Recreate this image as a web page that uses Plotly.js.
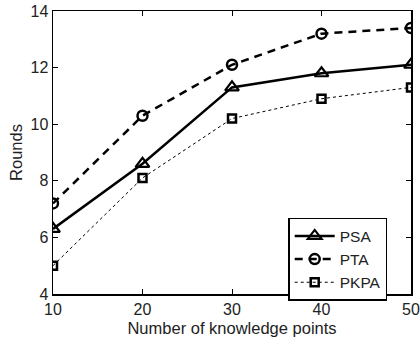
<!DOCTYPE html>
<html><head><meta charset="utf-8">
<script src="https://cdn.plot.ly/plotly-3.0.1.min.js"></script>
<style>body{margin:0;background:#fff}#c{width:420px;height:342px}</style>
</head><body><div id="c"></div>
<script>
const knowledgePoints = [10, 20, 30, 40, 50];
const psa = [6.3, 8.6, 11.3, 11.8, 12.1];
const pta = [7.2, 10.3, 12.1, 13.2, 13.4];
const pkpa = [5.0, 8.1, 10.2, 10.9, 11.3];
const xTicks = [10, 20, 30, 40, 50];
const yTicks = [4, 6, 8, 10, 12, 14];

const FONT = 'Liberation Sans, Arial, Helvetica, sans-serif';

const traces = [
  {x: knowledgePoints, y: psa, name: 'PSA', mode: 'lines+markers',
   line: {color: '#000', width: 2.5, dash: 'solid'},
   marker: {symbol: 'triangle-up-open', size: 12, color: '#000', line: {width: 2.2, color: '#000'}}},
  {x: knowledgePoints, y: pta, name: 'PTA', mode: 'lines+markers',
   line: {color: '#000', width: 2.5, dash: '8px,6px'},
   marker: {symbol: 'circle-open', size: 10, color: '#000', line: {width: 2.5, color: '#000'}}},
  {x: knowledgePoints, y: pkpa, name: 'PKPA', mode: 'lines+markers',
   line: {color: '#000', width: 1, dash: 'dot'},
   marker: {symbol: 'square-open', size: 8, color: '#000', line: {width: 2.5, color: '#000'}}}
];

const axisCommon = {showline: true, linecolor: '#000', linewidth: 1.5, mirror: 'ticks',
  ticks: 'inside', ticklen: 5, tickcolor: '#000', showgrid: false, zeroline: false,
  ticklabeloverflow: 'allow',
  tickfont: {family: FONT, size: 16, color: '#222'}};

const layout = {
  width: 420, height: 342,
  margin: {l: 53, r: 9, t: 11, b: 48},
  paper_bgcolor: '#fff', plot_bgcolor: '#fff',
  showlegend: true,
  legend: {x: 0.657, y: 0.269, xanchor: 'left', yanchor: 'top',
    bordercolor: '#000', borderwidth: 1.5, bgcolor: '#fff', itemwidth: 40,
    font: {family: FONT, size: 15.5, color: '#222'},
    tracegroupgap: 0},
  xaxis: Object.assign({}, axisCommon, {range: [10, 50], tickvals: xTicks,
    title: {text: 'Number of knowledge points', standoff: 5,
      font: {family: FONT, size: 16.5, color: '#222'}}}),
  yaxis: Object.assign({}, axisCommon, {range: [4, 14], tickvals: yTicks,
    title: {text: 'Rounds', standoff: 3,
      font: {family: FONT, size: 16.5, color: '#222'}}})
};

Plotly.newPlot('c', traces, layout, {displayModeBar: false, staticPlot: true});
</script></body></html>
